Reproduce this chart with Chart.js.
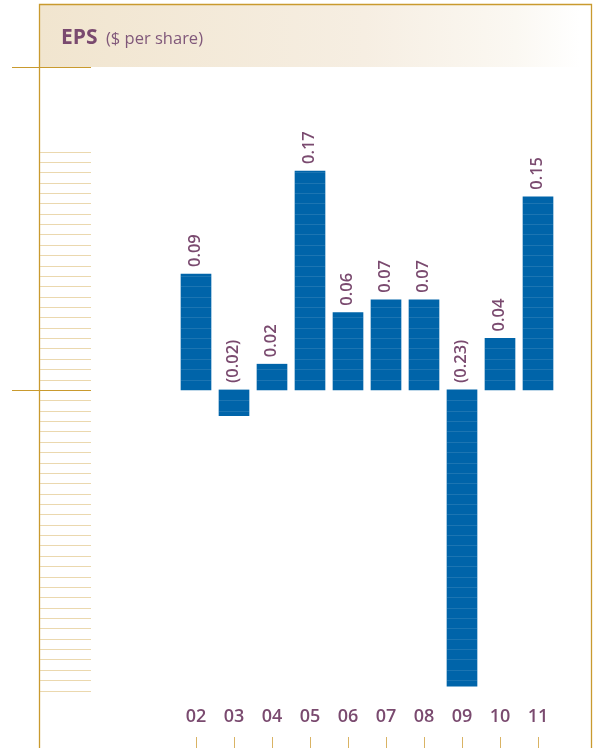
<!DOCTYPE html>
<html>
<head>
<meta charset="utf-8">
<title>EPS</title>
<script src="https://cdn.jsdelivr.net/npm/chart.js@4.4.1/dist/chart.umd.min.js"></script>
<style>
  html, body { margin: 0; padding: 0; background: #fff; }
  #wrap { position: relative; width: 597px; height: 748px; }
</style>
</head>
<body>
<div id="wrap"><canvas id="epsChart"></canvas></div>
<script>
// earnings per share, fiscal years 2002-2011
const years = ['02', '03', '04', '05', '06', '07', '08', '09', '10', '11'];
const eps = [0.09, -0.02, 0.02, 0.17, 0.06, 0.07, 0.07, -0.23, 0.04, 0.15];

const GOLD = '#c99a2e';
const PURPLE = '#7a4a6f';
const BLUE = '#0064a9';
const HATCH_STEP = 0.00805;   // spacing of the ruled lines, in $ per share
const HATCH_UP = 23;
const HATCH_DOWN = 29;

function fmt(v) {
  return v < 0 ? '(' + Math.abs(v).toFixed(2) + ')' : v.toFixed(2);
}

function hatchRows(y) {
  const zero = y.getPixelForValue(0);
  const step = zero - y.getPixelForValue(HATCH_STEP);
  const rows = [];
  for (let k = -HATCH_UP; k <= HATCH_DOWN; k++) {
    if (k !== 0) rows.push(Math.round(zero + k * step) + 0.5);
  }
  return rows;
}

const decor = {
  id: 'epsDecor',
  beforeDraw(chart) {
    const ctx = chart.ctx;
    const area = chart.chartArea;
    const y = chart.scales.y;
    const H = chart.height;
    ctx.save();

    // header band
    const g = ctx.createLinearGradient(40, 0, 580, 0);
    g.addColorStop(0, '#f1e5cf');
    g.addColorStop(0.6, '#f6eee2');
    g.addColorStop(0.88, '#fbf8f2');
    g.addColorStop(1, '#ffffff');
    ctx.fillStyle = g;
    ctx.fillRect(40, 5, 551, area.top - 6);

    // frame
    ctx.strokeStyle = GOLD;
    ctx.lineWidth = 1.3;
    ctx.beginPath();
    ctx.moveTo(39.5, H);
    ctx.lineTo(39.5, 4.5);
    ctx.lineTo(591.5, 4.5);
    ctx.lineTo(591.5, H);
    ctx.stroke();

    // ruled lines on the left
    ctx.strokeStyle = 'rgba(222, 190, 120, 0.6)';
    ctx.lineWidth = 1;
    ctx.beginPath();
    hatchRows(y).forEach(py => {
      ctx.moveTo(40, py);
      ctx.lineTo(91, py);
    });
    ctx.stroke();

    // top and zero markers
    ctx.strokeStyle = GOLD;
    ctx.lineWidth = 1.2;
    ctx.beginPath();
    const topY = Math.round(area.top) - 0.5;
    const zeroY = Math.round(y.getPixelForValue(0)) + 0.5;
    ctx.moveTo(12, topY); ctx.lineTo(91, topY);
    ctx.moveTo(12, zeroY); ctx.lineTo(91, zeroY);
    ctx.stroke();

    // title
    ctx.textBaseline = 'alphabetic';
    ctx.fillStyle = PURPLE;
    ctx.font = 'bold 21px "Open Sans"';
    ctx.fillText('EPS', 61, 44);
    ctx.fillStyle = '#80587a';
    ctx.font = '16.5px "Open Sans"';
    ctx.fillText('($ per share)', 106, 44);
    ctx.restore();
  },
  afterDatasetsDraw(chart) {
    const ctx = chart.ctx;
    const y = chart.scales.y;
    const x = chart.scales.x;
    const zero = y.getPixelForValue(0);
    const rows = hatchRows(y);
    const bars = chart.getDatasetMeta(0).data;
    ctx.save();

    // light rules across each bar
    ctx.strokeStyle = 'rgba(255, 255, 255, 0.11)';
    ctx.lineWidth = 1;
    bars.forEach(bar => {
      const p = bar.getProps(['x', 'y', 'base', 'width'], true);
      const t = Math.min(p.y, p.base), b = Math.max(p.y, p.base);
      ctx.beginPath();
      rows.forEach(py => {
        if (py > t + 1 && py < b - 1) {
          ctx.moveTo(p.x - p.width / 2, py);
          ctx.lineTo(p.x + p.width / 2, py);
        }
      });
      ctx.stroke();
    });

    // value labels, rotated
    ctx.fillStyle = PURPLE;
    ctx.font = '600 16.5px "Open Sans"';
    ctx.textAlign = 'left';
    ctx.textBaseline = 'middle';
    bars.forEach((bar, i) => {
      const p = bar.getProps(['x', 'y'], true);
      const start = Math.min(p.y, zero) - 7;
      ctx.save();
      ctx.translate(p.x - 1, start);
      ctx.rotate(-Math.PI / 2);
      ctx.fillText(fmt(eps[i]), 0, 0);
      ctx.restore();
    });

    // tick marks under the year labels
    ctx.strokeStyle = '#d9b364';
    ctx.lineWidth = 1;
    ctx.beginPath();
    years.forEach((yr, i) => {
      const px = Math.round(x.getPixelForValue(i)) + 0.5;
      ctx.moveTo(px, 737);
      ctx.lineTo(px, 748);
    });
    ctx.stroke();
    ctx.restore();
  }
};

new Chart(document.getElementById('epsChart'), {
  type: 'bar',
  data: {
    labels: years,
    datasets: [{
      label: 'EPS',
      data: eps,
      backgroundColor: BLUE,
      borderWidth: 0,
      barThickness: 30
    }]
  },
  options: {
    responsive: true,
    maintainAspectRatio: false,
    animation: false,
    events: [],
    layout: { padding: { left: 177, right: 40, top: 68, bottom: 0 } },
    plugins: {
      legend: { display: false },
      tooltip: { enabled: false }
    },
    scales: {
      y: {
        display: false,
        min: -0.24,
        max: 0.25
      },
      x: {
        grid: { display: false, drawTicks: false },
        border: { display: false },
        ticks: {
          color: PURPLE,
          padding: 7,
          font: { family: 'Open Sans', size: 18, weight: '600' }
        },
        afterFit(scale) { scale.height = 49; }
      }
    }
  },
  plugins: [decor]
});
</script>
</body>
</html>
